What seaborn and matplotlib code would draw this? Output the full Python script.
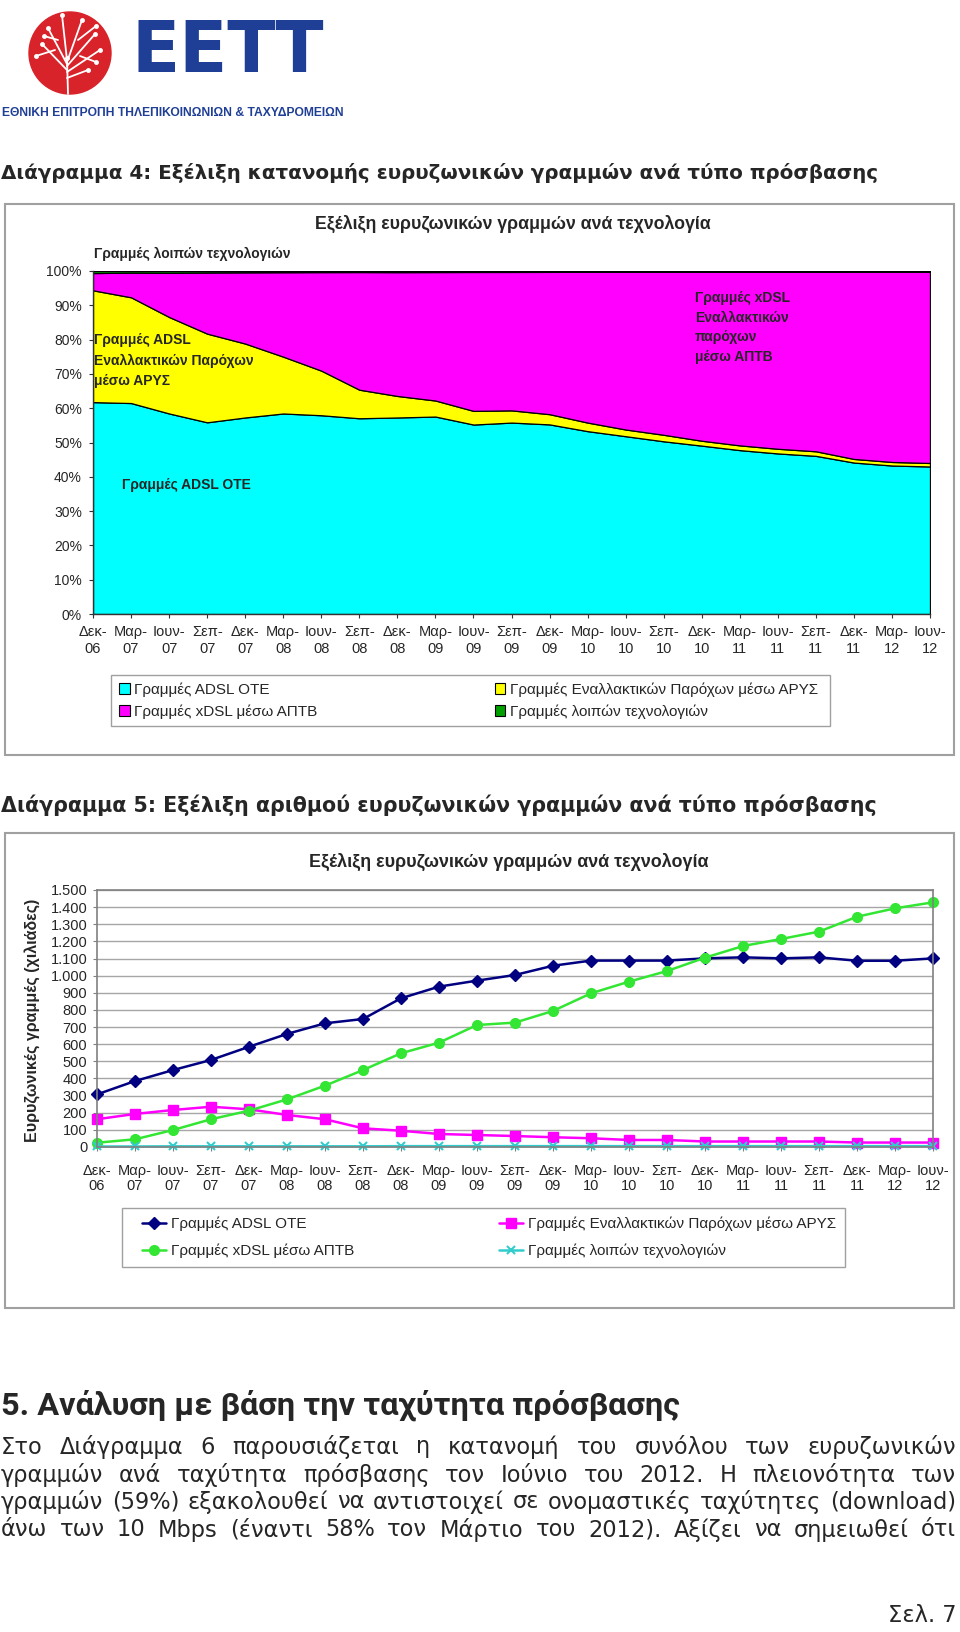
import numpy as np
import pandas as pd
import matplotlib
matplotlib.use('Agg')
import matplotlib.pyplot as plt
import seaborn as sns
from matplotlib.patches import Rectangle, Circle, Patch

# Page size in pixels
W, H = 960, 1632

periods = ['Δεκ-06', 'Μαρ-07', 'Ιουν-07', 'Σεπ-07', 'Δεκ-07', 'Μαρ-08', 'Ιουν-08', 'Σεπ-08',
           'Δεκ-08', 'Μαρ-09', 'Ιουν-09', 'Σεπ-09', 'Δεκ-09', 'Μαρ-10', 'Ιουν-10', 'Σεπ-10',
           'Δεκ-10', 'Μαρ-11', 'Ιουν-11', 'Σεπ-11', 'Δεκ-11', 'Μαρ-12', 'Ιουν-12']
adsl_ote = [307, 385, 449, 508, 585, 660, 722, 747, 868, 936, 971, 1004, 1058, 1088, 1088, 1088,
            1101, 1107, 1101, 1107, 1087, 1087, 1101]
adsl_arys = [162, 193, 216, 235, 220, 187, 162, 109, 95, 76, 70, 64, 57, 51, 41, 41,
             32, 32, 32, 32, 26, 26, 26]
xdsl_aptb = [25, 45, 99, 162, 212, 278, 358, 449, 547, 609, 712, 726, 794, 897, 965, 1027,
             1105, 1173, 1214, 1257, 1344, 1393, 1428]
other_tech = [3, 3, 4, 4, 4, 4, 4, 4, 5, 5, 5, 5, 5, 5, 5, 5, 5, 5, 5, 5, 5, 5, 5]

labels = ['Γραμμές ADSL ΟΤΕ', 'Γραμμές Εναλλακτικών Παρόχων μέσω ΑΡΥΣ',
          'Γραμμές xDSL μέσω ΑΠΤΒ', 'Γραμμές λοιπών τεχνολογιών']
chart_title = 'Εξέλιξη ευρυζωνικών γραμμών ανά τεχνολογία'

sns.set_style('white')
plt.rcParams['font.family'] = ['Liberation Sans', 'DejaVu Sans']
NARROW = ['Liberation Sans Narrow', 'Liberation Sans']
VERDANA = ['DejaVu Sans']

fig = plt.figure(figsize=(W / 100, H / 100), dpi=100)


def fig_box(l, t, r, b):
    return (l / W, 1 - b / H, (r - l) / W, (b - t) / H)


def px_axes(l, t, r, b):
    return fig.add_axes(fig_box(l, t, r, b))


x = np.arange(len(periods))
tick_labels = [p.replace('-', '-\n') for p in periods]
order = [0, 2, 1, 3]  # legend: two columns, filled column by column

# ---------------- Chart 1: 100% stacked area ----------------
counts = np.array([adsl_ote, adsl_arys, xdsl_aptb, other_tech], dtype=float)
shares = counts / counts.sum(axis=0) * 100
area_colors = ['#00FFFF', '#FFFF00', '#FF00FF', '#00A000']

ax1 = px_axes(93, 271, 930, 614)
ax1.stackplot(x, shares, colors=area_colors, edgecolor='black', linewidth=0.9)
ax1.set_xlim(0, len(periods) - 1)
ax1.set_ylim(0, 100)
ax1.set_yticks(range(0, 101, 10))
ax1.set_yticklabels([f'{v}%' for v in range(0, 101, 10)], fontsize=10)
ax1.set_xticks(x)
ax1.set_xticklabels(tick_labels, fontsize=10.5, family=NARROW, linespacing=1.25)
ax1.tick_params(axis='both', direction='out', length=3, width=0.8, color='#333333', pad=5,
                left=True, bottom=True)
for s in ['top', 'right']:
    ax1.spines[s].set_visible(False)
for s in ['left', 'bottom']:
    ax1.spines[s].set_color('#333333')
    ax1.spines[s].set_linewidth(1)

handles = [Patch(facecolor=c, edgecolor='black', linewidth=0.8) for c in area_colors]
ax1.legend([handles[i] for i in order], [labels[i] for i in order], ncol=2, mode='expand',
           loc='center', bbox_to_anchor=fig_box(119, 675, 818, 726),
           bbox_transform=fig.transFigure, frameon=False, borderaxespad=0, borderpad=0,
           handlelength=0.7, handleheight=0.7, handletextpad=0.3, labelspacing=0.5,
           prop={'family': NARROW, 'size': 11})

# ---------------- Chart 2: lines ----------------
ax2 = px_axes(97, 890, 933, 1147)
line_specs = [
    (adsl_ote, labels[0], '#000080', 'D', 6.5, 1.0),
    (adsl_arys, labels[1], '#FF00FF', 's', 7, 1.0),
    (xdsl_aptb, labels[2], '#33E633', 'o', 7, 1.0),
    (other_tech, labels[3], '#33CCCC', 'x', 6, 1.5),
]
for vals, lab, col, mk, ms, mew in line_specs:
    sns.lineplot(x=x, y=vals, ax=ax2, color=col, marker=mk, markersize=ms,
                 markeredgecolor=col, markerfacecolor=col, markeredgewidth=mew,
                 linewidth=1.8, label=lab, clip_on=False)
ax2.set_xlim(0, len(periods) - 1)
ax2.set_ylim(0, 1500)
yt = list(range(0, 1501, 100))
ax2.set_yticks(yt)
ax2.set_yticklabels([f'{v:,}'.replace(',', '.') for v in yt], fontsize=10.5)
ax2.set_xticks(x)
ax2.set_xticklabels(tick_labels, fontsize=10.5, family=NARROW, linespacing=1.15)
ax2.tick_params(axis='y', direction='out', length=3, width=0.8, color='#808080', pad=4, left=True)
ax2.tick_params(axis='x', direction='out', length=3, width=0.8, color='#808080', pad=9, bottom=True)
ax2.grid(axis='y', color='#a6a6a6', linewidth=1)
ax2.grid(axis='x', visible=False)
ax2.set_axisbelow(True)
for s in ax2.spines.values():
    s.set_color('#808080')
    s.set_linewidth(1.2)
ax2.set_xlabel('')
ax2.set_ylabel('Ευρυζωνικές γραμμές (χιλιάδες)', fontsize=11.5, fontweight='bold')
ax2.yaxis.label.set_va('center')
ax2.yaxis.set_label_coords((33 - 97) / 836, (1147 - 1020) / 257)

h2, l2 = ax2.get_legend_handles_labels()
ax2.legend([h2[i] for i in order], [l2[i] for i in order], ncol=2, mode='expand',
           loc='center', bbox_to_anchor=fig_box(142, 1208, 836, 1267),
           bbox_transform=fig.transFigure, frameon=False, borderaxespad=0, borderpad=0,
           handlelength=1.6, handletextpad=0.3, labelspacing=0.8,
           prop={'family': NARROW, 'size': 11})

# ---------------- Page overlay ----------------
page = fig.add_axes([0, 0, 1, 1])
page.set_xlim(0, W)
page.set_ylim(H, 0)
page.axis('off')
page.patch.set_alpha(0)
renderer = fig.canvas.get_renderer()


def fit_text(x0, y0, s, width, **kw):
    t = page.text(x0, y0, s, **kw)
    bb = t.get_window_extent(renderer)
    t.set_fontsize(t.get_fontsize() * width / bb.width)
    return t


# chart frames and legend frames
page.add_patch(Rectangle((5, 204), 949, 551, fill=False, edgecolor='#a0a0a0', linewidth=1.5))
page.add_patch(Rectangle((5, 833), 949, 475, fill=False, edgecolor='#a0a0a0', linewidth=1.5))
page.add_patch(Rectangle((111, 675), 719, 51, fill=False, edgecolor='#a0a0a0', linewidth=1))
page.add_patch(Rectangle((122, 1208), 723, 59, fill=False, edgecolor='#a0a0a0', linewidth=1))

# logo
page.add_patch(Circle((70, 53), 41, color='#D9232A'))
branches = [((68, 94), (67, 58)), ((67, 70), (42, 44)), ((67, 64), (48, 28)), ((67, 60), (62, 15)),
            ((67, 62), (82, 20)), ((67, 66), (95, 34)), ((67, 72), (100, 50)), ((67, 78), (88, 70)),
            ((55, 50), (36, 56)), ((58, 40), (44, 36)), ((78, 40), (96, 26)), ((80, 56), (96, 62))]
for (xa, ya), (xb, yb) in branches:
    page.plot([xa, xb], [ya, yb], color='white', linewidth=1.3, solid_capstyle='round')
    page.plot([xb], [yb], 'o', color='white', markersize=2.5)
fit_text(132, 52, 'ΕΕΤΤ', 193, fontsize=50, fontweight='bold', color='#1F3F96',
         family=VERDANA, va='center', ha='left')
fit_text(2, 113, 'ΕΘΝΙΚΗ ΕΠΙΤΡΟΠΗ ΤΗΛΕΠΙΚΟΙΝΩΝΙΩΝ & ΤΑΧΥΔΡΟΜΕΙΩΝ', 340, fontsize=10,
         fontweight='bold', color='#1F3F96', family=NARROW, va='center', ha='left')

# headings
fit_text(1, 173, 'Διάγραμμα 4: Εξέλιξη κατανομής ευρυζωνικών γραμμών ανά τύπο πρόσβασης', 873,
         fontsize=13, fontweight='bold', family=VERDANA, va='center', ha='left')
fit_text(1, 805, 'Διάγραμμα 5: Εξέλιξη αριθμού ευρυζωνικών γραμμών ανά τύπο πρόσβασης', 873,
         fontsize=13, fontweight='bold', family=VERDANA, va='center', ha='left')

# chart titles
fit_text(315, 224, chart_title, 398, fontsize=11.5, fontweight='bold', ha='left', va='center')
fit_text(309, 862, chart_title, 400, fontsize=11.5, fontweight='bold', ha='left', va='center')

# chart 1 annotations
ann = dict(fontsize=10, fontweight='bold', ha='left', va='center')
page.text(94, 254, labels[3], **ann)
for yy, s in zip([340, 361, 381], ['Γραμμές ADSL', 'Εναλλακτικών Παρόχων', 'μέσω ΑΡΥΣ']):
    page.text(94, yy, s, **ann)
page.text(122, 485, 'Γραμμές ADSL ΟΤΕ', **ann)
for yy, s in zip([298, 318, 337, 357], ['Γραμμές xDSL', 'Εναλλακτικών', 'παρόχων', 'μέσω ΑΠΤΒ']):
    page.text(695, yy, s, **ann)

# section heading
fit_text(1, 1405, '5. Ανάλυση με βάση την ταχύτητα πρόσβασης', 678, fontsize=18,
         fontweight='bold', family=['Roboto', 'DejaVu Sans'], va='center', ha='left')

# justified paragraph
para = ['Στο Διάγραμμα 6 παρουσιάζεται η κατανομή του συνόλου των ευρυζωνικών',
        'γραμμών ανά ταχύτητα πρόσβασης τον Ιούνιο του 2012. Η πλειονότητα των',
        'γραμμών (59%) εξακολουθεί να αντιστοιχεί σε ονομαστικές ταχύτητες (download)',
        'άνω των 10 Mbps (έναντι 58% τον Μάρτιο του 2012). Αξίζει να σημειωθεί ότι']
probe = page.text(0, 0, para[2], fontsize=14, family=VERDANA)
fs_par = 14 * 950 / probe.get_window_extent(renderer).width
probe.remove()
for yy, line in zip([1447, 1475, 1502, 1530], para):
    words = line.split(' ')
    arts = [page.text(0, yy, w, fontsize=fs_par, family=VERDANA, va='center', ha='left') for w in words]
    widths = [a.get_window_extent(renderer).width for a in arts]
    gap = (955 - sum(widths)) / (len(words) - 1)
    xc = 1
    for a, wd in zip(arts, widths):
        a.set_x(xc)
        xc += wd + gap

page.text(956, 1615, 'Σελ. 7', fontsize=fs_par, family=VERDANA, ha='right', va='center')

fig.savefig('out.png', dpi=100)
